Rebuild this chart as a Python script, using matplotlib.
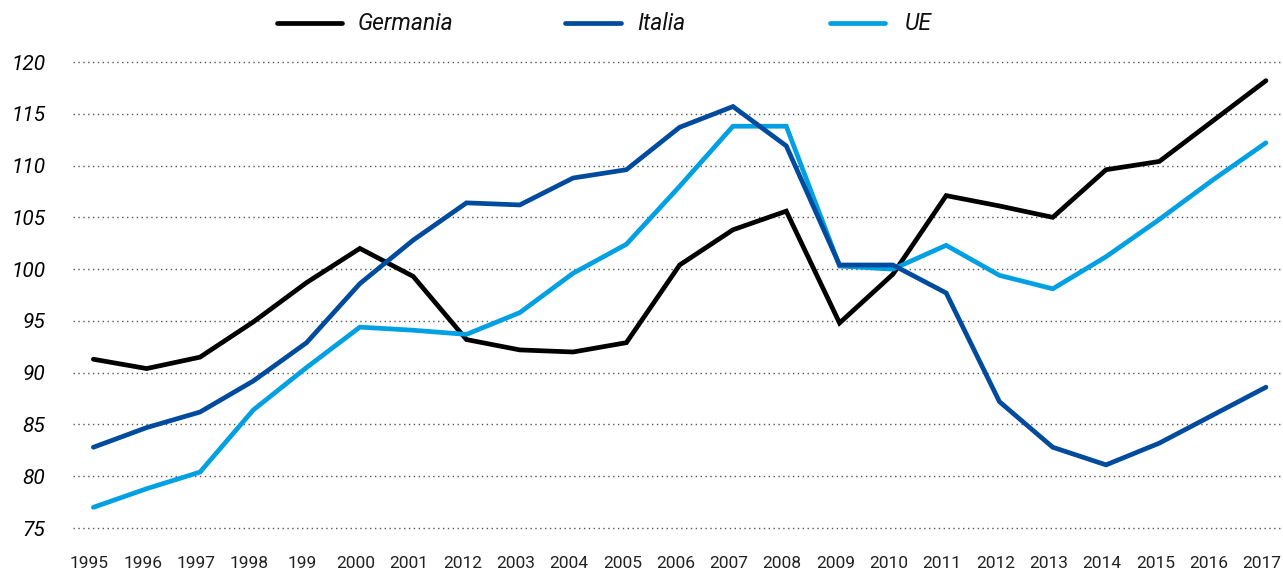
import numpy as np
import matplotlib.pyplot as plt
import matplotlib.transforms as mtransforms
from matplotlib.lines import Line2D

plt.rcParams['font.family'] = ['Roboto', 'DejaVu Sans']

# x labels as printed on the original (typos included)
years = ['1995', '1996', '1997', '1998', '199', '2000', '2001', '2012', '2003',
         '2004', '2005', '2006', '2007', '2008', '2009', '2010', '2011', '2012',
         '2013', '2014', '2015', '2016', '2017']

germania = [91.3, 90.4, 91.5, 94.9, 98.7, 102.0, 99.3, 93.2, 92.2, 92.0, 92.9,
            100.4, 103.8, 105.6, 94.8, 99.5, 107.1, 106.1, 105.0, 109.6, 110.4,
            114.3, 118.2]
italia = [82.8, 84.7, 86.2, 89.2, 92.9, 98.6, 102.8, 106.4, 106.2, 108.8, 109.6,
          113.7, 115.7, 111.9, 100.4, 100.4, 97.7, 87.2, 82.8, 81.1, 83.2, 85.9,
          88.6]
ue = [77.0, 78.8, 80.4, 86.4, 90.5, 94.4, 94.1, 93.7, 95.8, 99.6, 102.4, 108.0,
      113.8, 113.8, 100.3, 100.0, 102.3, 99.4, 98.1, 101.2, 104.8, 108.6, 112.2]

yticks = [75, 80, 85, 90, 95, 100, 105, 110, 115, 120]

c_ger = '#000000'
c_ita = '#004b9d'
c_ue = '#00a0e3'

W, H = 1283, 574
fig = plt.figure(figsize=(W / 100, H / 100), dpi=100)
ax = fig.add_axes([0.057, 0.053, 0.943, 0.857])

x = np.arange(len(years))
lw = 3.4
ax.plot(x, germania, color=c_ger, lw=lw, solid_capstyle='round', solid_joinstyle='miter', zorder=3)
ax.plot(x, italia, color=c_ita, lw=lw, solid_capstyle='round', solid_joinstyle='miter', zorder=4)
ax.plot(x, ue, color=c_ue, lw=lw, solid_capstyle='round', solid_joinstyle='miter', zorder=3)

ax.set_xlim(-0.38, 22.32)
ax.set_ylim(73.5, 121)
ax.set_yticks(yticks)
ax.set_xticks(x)
ax.set_xticklabels(years)
ax.grid(axis='y', linestyle=(0, (1, 2.5)), color='#555555', lw=1.0)
ax.grid(axis='x', visible=False)
for s in ax.spines.values():
    s.set_visible(False)
ax.tick_params(axis='both', length=0)
ax.tick_params(axis='y', pad=20, labelsize=15)
ax.tick_params(axis='x', pad=9, labelsize=12.5)
for lab in ax.get_yticklabels():
    lab.set_fontstyle('italic')
shift = mtransforms.ScaledTranslation(-4 / 100, 0, fig.dpi_scale_trans)
for lab in ax.get_xticklabels():
    lab.set_color('#222222')
    lab.set_transform(lab.get_transform() + shift)

# legend drawn by hand, positions in pixels from the top-left
legend_items = [('Germania', c_ger, 277, 342, 358),
                ('Italia', c_ita, 565, 621, 637),
                ('UE', c_ue, 830, 885, 905)]
ly = 1 - 23 / H
for name, col, x0, x1, tx in legend_items:
    fig.add_artist(Line2D([x0 / W, x1 / W], [ly, ly], color=col, lw=lw,
                          solid_capstyle='round', transform=fig.transFigure))
    fig.text(tx / W, ly, name, fontsize=16.5, fontstyle='italic',
             va='center', ha='left', color='#111111')

fig.savefig('out.png', dpi=100)
